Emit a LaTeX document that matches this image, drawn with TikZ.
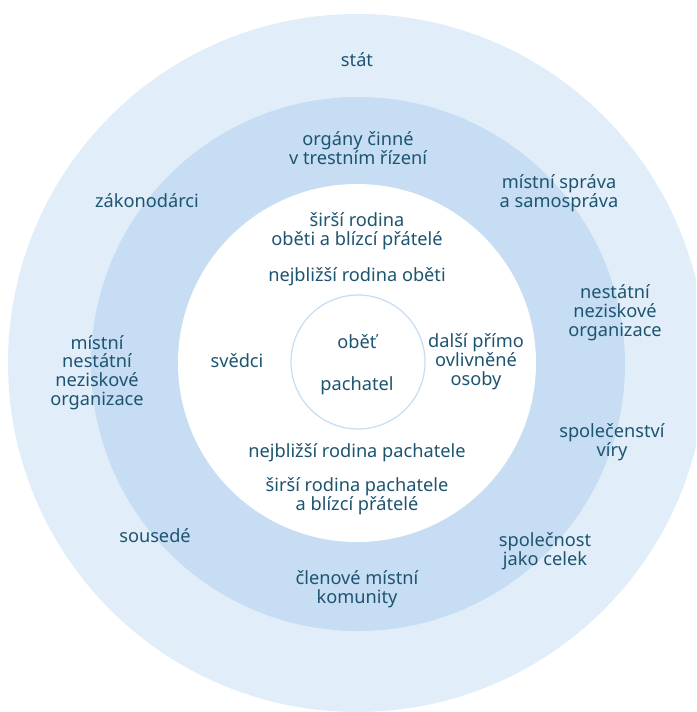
\documentclass[tikz,border=0pt]{standalone}
\usepackage{fontspec}
\setmainfont{Noto Sans}
\definecolor{outerblue}{HTML}{E1EEFA}
\definecolor{midblue}{HTML}{C6DDF3}
\definecolor{txt}{HTML}{1D5470}
\begin{document}
\begin{tikzpicture}[x=1pt,y=-1pt,
  lbl/.style={align=center,text=txt,font=\fontsize{18.2}{18.8}\selectfont,inner sep=0pt}]
\useasboundingbox (0,0) rectangle (696,712);
\begin{scope}
\clip (0,0) rectangle (696,712);
\fill[outerblue] (357,363) circle (349);
\fill[midblue] (358,364) circle (267);
\fill[white] (357,363) circle (179);
\draw[midblue,line width=1.2pt,fill=white] (358,362) circle (67);
\end{scope}
\node[lbl] (stat) at (357,60) {stát};
\node[lbl] (organy) at (358,148.5) {orgány činné\\v trestním řízení};
\node[lbl] (zakon) at (147,201) {zákonodárci};
\node[lbl] (sprava) at (559,193) {místní správa\\a samospráva};
\node[lbl] (sirsiob) at (357,231.5) {širší rodina\\oběti a blízcí přátelé};
\node[lbl] (nejob) at (357,277) {nejbližší rodina oběti};
\node[lbl] (nno) at (615,313) {nestátní\\neziskové\\organizace};
\node[lbl] (obet) at (357,342) {oběť};
\node[lbl] (svedci) at (237,361) {svědci};
\node[lbl] (dalsi) at (476,362) {další přímo\\ovlivněné\\osoby};
\node[lbl] (pach) at (357,386) {pachatel};
\node[lbl] (mnno) at (97,372.5) {místní\\nestátní\\neziskové\\organizace};
\node[lbl] (viry) at (612,442) {společenství\\víry};
\node[lbl] (nejpach) at (357,453) {nejbližší rodina pachatele};
\node[lbl] (sirsipach) at (357,496) {širší rodina pachatele\\a blízcí přátelé};
\node[lbl] (sousede) at (155,536) {sousedé};
\node[lbl] (spol) at (545,551) {společnost\\jako celek};
\node[lbl] (clen) at (357,589.5) {členové místní\\komunity};
\end{tikzpicture}
\end{document}
